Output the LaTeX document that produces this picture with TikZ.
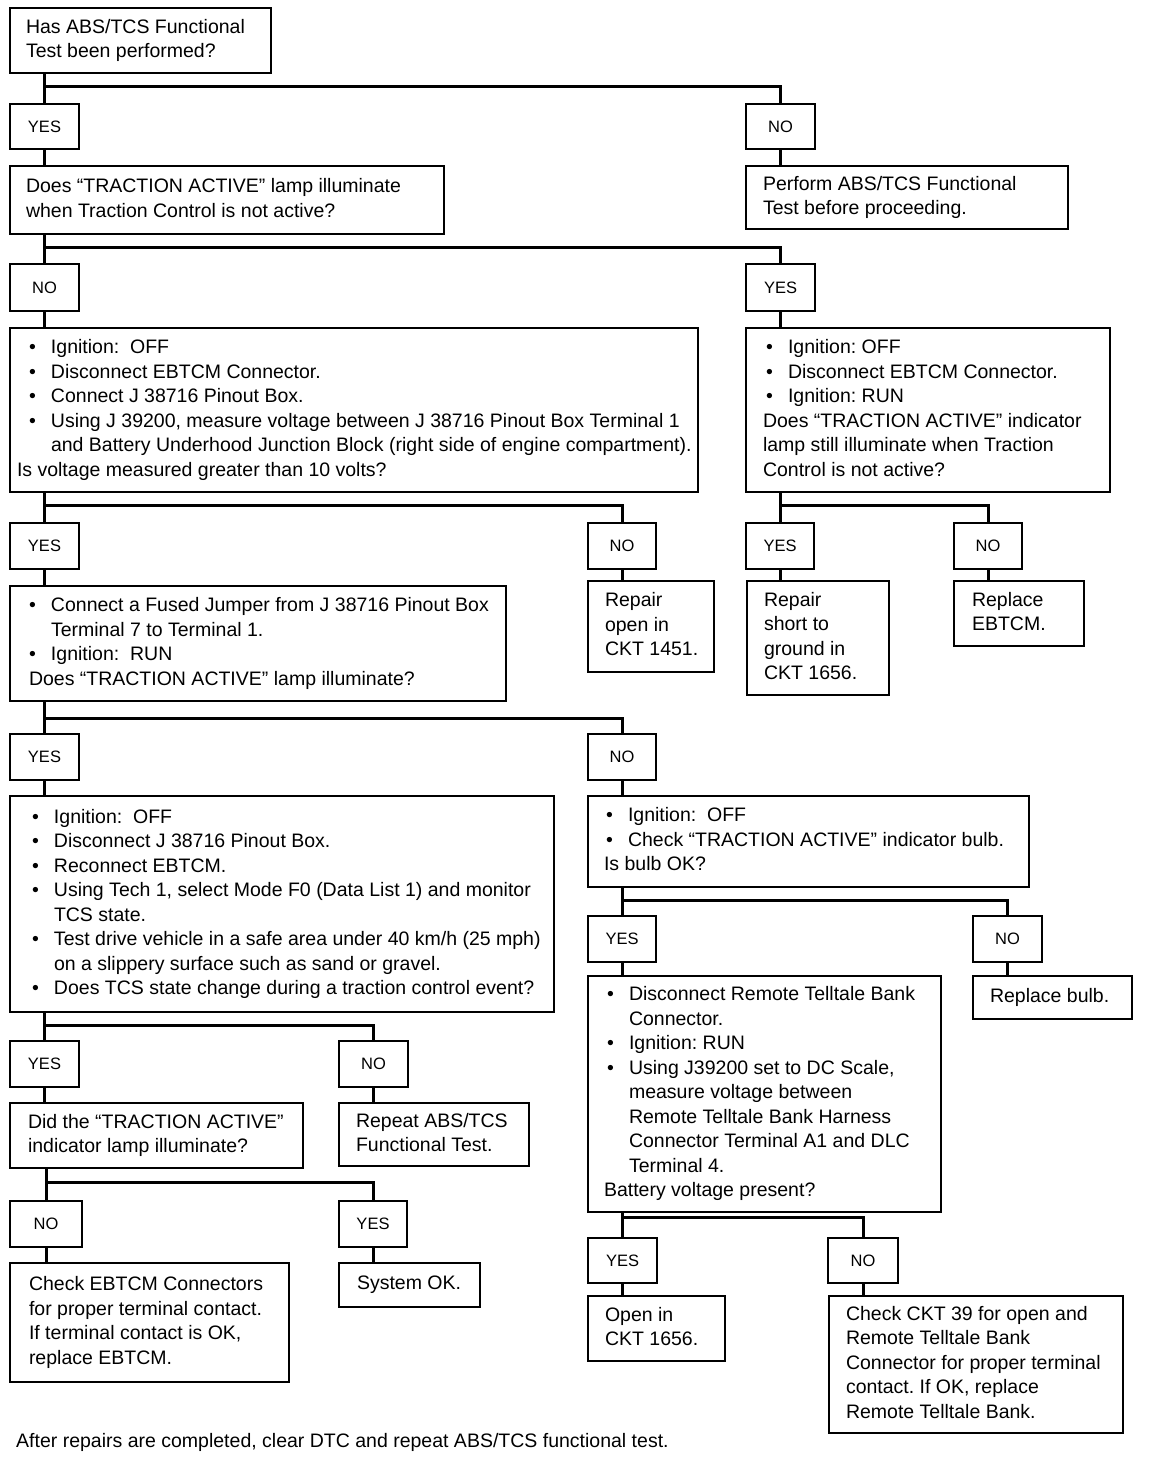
\documentclass[tikz,border=0pt]{standalone}
\usepackage{fontspec}
\setmainfont{Liberation Sans}
\usetikzlibrary{calc}
\frenchspacing
\newcommand\mfont{\fontsize{19.5}{24.5}\selectfont}
\newcommand\sfont{\fontsize{16.5}{20}\selectfont}
\newcommand\bu[1][0pt]{\hspace*{#1}\makebox[22pt][l]{\textbullet}}
\newcommand\ct[1][0pt]{\hspace*{\dimexpr#1+22pt\relax}}
\tikzset{
 box/.style={draw, line width=2pt, anchor=north west, inner ysep=0pt, font=\mfont},
 sbox/.style={draw, line width=2pt, anchor=north west, inner sep=0pt, font=\sfont, align=center},
 conn/.style={line width=3pt, line join=miter},
}
\newcommand\bx[7]{%
 \pgfmathsetmacro\bxw{#4-#2}\pgfmathsetmacro\bxh{#5-#3}\pgfmathsetmacro\bxt{#4-#2-2*#6}%
 \node[box, minimum width=\bxw pt, minimum height=\bxh pt, inner xsep=#6pt] (#1) at (#2pt,-#3pt)
 {\makebox[\bxt pt][l]{\begin{tabular}{@{}l@{}}#7\end{tabular}}};}
\newcommand\sm[6]{%
 \pgfmathsetmacro\bxw{#4-#2}\pgfmathsetmacro\bxh{#5-#3}%
 \node[sbox, minimum width=\bxw pt, minimum height=\bxh pt] (#1) at (#2pt,-#3pt) {#6};}
\newcommand\branchto[4]{\draw[conn] (#1.south -| #2.north) -- (#2.north);
 \draw[conn] ([yshift=#4pt]#2.north) -| (#3.north);}
\newcommand\down[2]{\draw[conn] (#1.south) -- (#1.south |- #2.north);}
\begin{document}
\begin{tikzpicture}
\path[use as bounding box, fill=white] (0,0) rectangle (1152pt,-1458pt);
% row 1
\bx{q1}{9}{7}{270}{72}{16}{Has ABS/TCS Functional\\Test been performed?}
\sm{yes1}{9}{103}{78}{148}{YES}
\sm{no1}{745}{103}{814}{148}{NO}
\bx{q2}{9}{165}{443}{233}{16}{Does “TRACTION ACTIVE” lamp illuminate\\when Traction Control is not active?}
\bx{p1}{745}{165}{1067}{228}{17}{Perform ABS/TCS Functional\\Test before proceeding.}
\sm{no2}{9}{263}{78}{310}{NO}
\sm{yes2}{745}{263}{814}{310}{YES}
\bx{q3}{9}{327}{697}{491}{7}{\bu[12pt]Ignition:\ \ OFF\\
\bu[12pt]Disconnect EBTCM Connector.\\
\bu[12pt]Connect J 38716 Pinout Box.\\
\bu[12pt]Using J 39200, measure voltage between J 38716 Pinout Box Terminal 1\\
\ct[12pt]and Battery Underhood Junction Block (right side of engine compartment).\\
Is voltage measured greater than 10 volts?}
\bx{q4}{745}{327}{1109}{491}{17}{\bu[3pt]Ignition: OFF\\
\bu[3pt]Disconnect EBTCM Connector.\\
\bu[3pt]Ignition: RUN\\
Does “TRACTION ACTIVE” indicator\\
lamp still illuminate when Traction\\
Control is not active?}
\sm{yes3}{9}{522}{78}{568}{YES}
\sm{no3}{587}{522}{655}{568}{NO}
\sm{yes4}{745}{522}{813}{568}{YES}
\sm{no4}{953}{522}{1021}{568}{NO}
\bx{q5}{9}{585}{505}{700}{19}{\bu Connect a Fused Jumper from J 38716 Pinout Box\\
\ct Terminal 7 to Terminal 1.\\
\bu Ignition:\ \ RUN\\
Does “TRACTION ACTIVE” lamp illuminate?}
\bx{r1451}{587}{580}{713}{671}{17}{Repair\\open in\\CKT 1451.}
\bx{r1656}{746}{580}{888}{694}{17}{Repair\\short to\\ground in\\CKT 1656.}
\bx{rebtcm}{953}{580}{1083}{645}{18}{Replace\\EBTCM.}
\sm{yes5}{9}{733}{78}{779}{YES}
\sm{no5}{587}{733}{655}{779}{NO}
\bx{q6}{9}{795}{553}{1011}{22}{\bu Ignition:\ \ OFF\\
\bu Disconnect J 38716 Pinout Box.\\
\bu Reconnect EBTCM.\\
\bu Using Tech 1, select Mode F0 (Data List 1) and monitor\\
\ct TCS state.\\
\bu Test drive vehicle in a safe area under 40 km/h (25 mph)\\
\ct on a slippery surface such as sand or gravel.\\
\bu Does TCS state change during a traction control event?}
\bx{q7}{587}{795}{1028}{886}{16}{\bu[2pt]Ignition:\ \ OFF\\
\bu[2pt]Check “TRACTION ACTIVE” indicator bulb.\\
Is bulb OK?}
\sm{yes6}{9}{1040}{78}{1086}{YES}
\sm{no6}{338}{1040}{407}{1086}{NO}
\bx{q8}{9}{1102}{302}{1167}{18}{Did the “TRACTION ACTIVE”\\indicator lamp illuminate?}
\bx{rep}{338}{1102}{528}{1165}{17}{Repeat ABS/TCS\\Functional Test.}
\sm{no7}{9}{1200}{81}{1246}{NO}
\sm{yes7}{338}{1200}{406}{1246}{YES}
\bx{chk}{9}{1262}{288}{1381}{19}{Check EBTCM Connectors\\for proper terminal contact.\\If terminal contact is OK,\\replace EBTCM.}
\bx{sysok}{338}{1262}{479}{1306}{18}{System OK.}
\sm{yes8}{587}{915}{655}{961}{YES}
\sm{no8}{972}{915}{1041}{961}{NO}
\bx{q9}{587}{975}{940}{1211}{16}{\bu[3pt]Disconnect Remote Telltale Bank\\
\ct[3pt]Connector.\\
\bu[3pt]Ignition: RUN\\
\bu[3pt]Using J39200 set to DC Scale,\\
\ct[3pt]measure voltage between\\
\ct[3pt]Remote Telltale Bank Harness\\
\ct[3pt]Connector Terminal A1 and DLC\\
\ct[3pt]Terminal 4.\\
Battery voltage present?}
\bx{bulb}{972}{975}{1131}{1018}{17}{Replace bulb.}
\sm{yes9}{587}{1237}{656}{1282}{YES}
\sm{no9}{827}{1237}{897}{1282}{NO}
\bx{open}{587}{1295}{724}{1360}{17}{Open in\\CKT 1656.}
\bx{ckt39}{828}{1295}{1122}{1432}{17}{Check CKT 39 for open and\\Remote Telltale Bank\\Connector for proper terminal\\contact. If OK, replace\\Remote Telltale Bank.}
\node[font=\mfont, anchor=base west, inner sep=0pt] (foot) at (16pt,-1447pt) {After repairs are completed, clear DTC and repeat ABS/TCS functional test.};
% connectors
\branchto{q1}{yes1}{no1}{16}
\down{yes1}{q2}\down{no1}{p1}
\branchto{q2}{no2}{yes2}{16}
\down{no2}{q3}\down{yes2}{q4}
\branchto{q3}{yes3}{no3}{17}
\branchto{q4}{yes4}{no4}{17}
\down{yes3}{q5}\down{no3}{r1451}\down{yes4}{r1656}\down{no4}{rebtcm}
\branchto{q5}{yes5}{no5}{15}
\down{yes5}{q6}\down{no5}{q7}
\branchto{q6}{yes6}{no6}{15}
\down{yes6}{q8}\down{no6}{rep}
\branchto{q8}{no7}{yes7}{18}
\down{no7}{chk}\down{yes7}{sysok}
\branchto{q7}{yes8}{no8}{15}
\down{yes8}{q9}\down{no8}{bulb}
\branchto{q9}{yes9}{no9}{20}
\down{yes9}{open}\down{no9}{ckt39}
\end{tikzpicture}
\end{document}
